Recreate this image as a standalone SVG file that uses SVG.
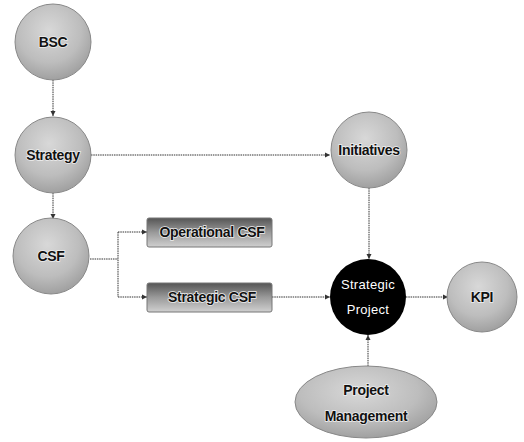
<svg xmlns="http://www.w3.org/2000/svg" width="524" height="442" viewBox="0 0 524 442">
<defs>
<radialGradient id="sph" cx="0.45" cy="0.35" r="0.7">
<stop offset="0" stop-color="#d8d8d8"/>
<stop offset="0.6" stop-color="#bdbdbd"/>
<stop offset="1" stop-color="#9a9a9a"/>
</radialGradient>
<linearGradient id="box" x1="0" y1="0" x2="0" y2="1">
<stop offset="0" stop-color="#555"/>
<stop offset="0.5" stop-color="#9a9a9a"/>
<stop offset="1" stop-color="#d0d0d0"/>
</linearGradient>
<marker id="arr" markerWidth="6" markerHeight="6" refX="5" refY="3" orient="auto" markerUnits="userSpaceOnUse">
<path d="M0,0.5 L5,3 L0,5.5 Z" fill="#333"/>
</marker>
</defs>
<style>
.sphere{fill:url(#sph);stroke:#888;stroke-width:1}
.lbl{font-family:"Liberation Sans",Arial,sans-serif;font-weight:bold;font-size:14px;fill:#111;text-anchor:middle;stroke:#eee;stroke-width:1.5;paint-order:stroke;letter-spacing:-0.3px}
.wlbl{font-family:"Liberation Sans",Arial,sans-serif;font-size:13px;fill:#fff;text-anchor:middle;letter-spacing:0.3px}
.con{fill:none;stroke:#333;stroke-width:1;stroke-dasharray:1.5 0.8}
.arr{marker-end:url(#arr)}
.bx{fill:url(#box);stroke:#777;stroke-width:1}
</style>
<rect width="524" height="442" fill="#fff"/>
<g id="connectors">
<path class="con arr" d="M53,80 L53,116"/>
<path class="con arr" d="M91,155 L330,155"/>
<path class="con arr" d="M53,193 L53,219"/>
<path class="con" d="M90,259 L118,259 M118,232 L118,297"/>
<path class="con arr" d="M118,232 L147,232"/>
<path class="con arr" d="M118,297 L147,297"/>
<path class="con arr" d="M272,297 L330,297"/>
<path class="con arr" d="M369,188 L369,259"/>
<path class="con arr" d="M406,297 L448,297"/>
<path class="con arr" d="M368,366 L368,335"/>
</g>
<g id="bsc"><circle class="sphere" cx="53" cy="42" r="38"/><text class="lbl" x="53" y="47">BSC</text></g>
<g id="strategy"><circle class="sphere" cx="53" cy="155" r="38"/><text class="lbl" x="53" y="160">Strategy</text></g>
<g id="csf"><circle class="sphere" cx="51" cy="256" r="38"/><text class="lbl" x="51" y="261">CSF</text></g>
<g id="initiatives"><circle class="sphere" cx="369" cy="150" r="38"/><text class="lbl" x="369" y="155">Initiatives</text></g>
<g id="operational-csf"><rect class="bx" x="147" y="218" width="125" height="29" rx="2"/><text class="lbl" x="212" y="237">Operational CSF</text></g>
<g id="strategic-csf"><rect class="bx" x="147" y="283" width="125" height="29" rx="2"/><text class="lbl" x="212" y="302">Strategic CSF</text></g>
<g id="strategic-project"><circle cx="368" cy="297" r="38" fill="#000"/><text class="wlbl" x="368" y="289">Strategic</text><text class="wlbl" x="368" y="314">Project</text></g>
<g id="kpi"><circle class="sphere" cx="482" cy="297" r="35"/><text class="lbl" x="482" y="302">KPI</text></g>
<g id="project-management"><ellipse class="sphere" cx="366" cy="402" rx="71" ry="36"/><text class="lbl" x="366" y="395">Project</text><text class="lbl" x="366" y="421">Management</text></g>
</svg>
